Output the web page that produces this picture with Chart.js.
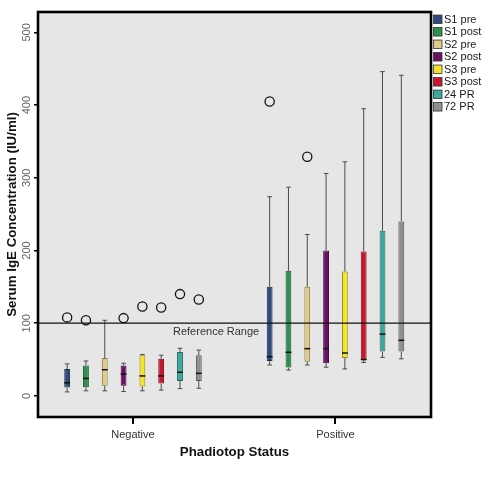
<!DOCTYPE html>
<html>
<head>
<meta charset="utf-8">
<script src="https://cdn.jsdelivr.net/npm/chart.js@4.4.1/dist/chart.umd.min.js"></script>
<style>
  html, body { margin: 0; padding: 0; background: #fff; }
  #wrap { width: 492px; height: 480px; position: relative; }
</style>
</head>
<body>
<div id="wrap"><canvas id="igeChart"></canvas></div>
<script>
// groups on the x axis (placed at x = 1, 2)
const groups = ['Negative', 'Positive'];
const groupPos = [1, 2];

// one box series per sampling point
const seriesNames = ['S1 pre', 'S1 post', 'S2 pre', 'S2 post', 'S3 pre', 'S3 post', '24 PR', '72 PR'];
const seriesColors = ['#2d4b7c', '#2f8d50', '#dfca8b', '#6b1063', '#f6e32c', '#c9152f', '#3ba89d', '#8f8f8f'];
const seriesBorders = ['#1c2f4e', '#1d5a33', '#8c7c4a', '#420a3d', '#9c8f12', '#7e0d1d', '#236860', '#555555'];

// box stats, each row = [Negative, Positive]
const whiskerLow  = [[5.5, 42.5], [7, 35.5], [7, 42.5], [6, 39.5], [7, 37], [8, 46], [10, 53], [10.5, 51]];
const q1          = [[11.5, 48], [12, 39], [14, 47], [14, 45], [13, 52], [17, 49.5], [20.5, 61], [20.5, 61]];
const median      = [[18, 54], [24, 60], [36, 65], [30, 65], [27.5, 59], [27.5, 50], [32.5, 85], [31, 76.5]];
const q3          = [[37, 150], [42, 172], [52, 150], [42, 200], [56, 171], [51, 198.5], [60.5, 227], [56, 240]];
const whiskerHigh = [[44, 274], [48, 287], [104, 222], [45, 306], [57, 322], [56, 395], [65.5, 446], [63, 441]];
const outliers    = [[[108], [405]], [[104], []], [[], [329]], [[107], []], [[123], []], [[121.5], []], [[140], []], [[132.5], []]];

const yTicks = [0, 100, 200, 300, 400, 500];
const referenceValue = 100;
const referenceText = 'Reference Range';

Chart.defaults.font.family = '"Liberation Sans", Arial, sans-serif';

const boxPlugin = {
    id: 'boxExtras',
    beforeDraw(chart) {
        const {ctx, chartArea: a} = chart;
        ctx.save();
        ctx.fillStyle = '#e6e6e6';
        ctx.fillRect(a.left, a.top, a.right - a.left, a.bottom - a.top);
        ctx.restore();
    },
    afterDatasetsDraw(chart) {
        const {ctx, chartArea: a} = chart;
        const y = chart.scales.y;
        ctx.save();
        chart.data.datasets.forEach((ds, i) => {
            const meta = chart.getDatasetMeta(i);
            meta.data.forEach((bar, j) => {
                const x = bar.x;
                const half = bar.width / 2;
                const cap = bar.width * 0.4;
                // whiskers
                ctx.strokeStyle = '#4a4a4a';
                ctx.lineWidth = 1;
                ctx.beginPath();
                ctx.moveTo(x, y.getPixelForValue(q3[i][j]));
                ctx.lineTo(x, y.getPixelForValue(whiskerHigh[i][j]));
                ctx.moveTo(x - cap, y.getPixelForValue(whiskerHigh[i][j]));
                ctx.lineTo(x + cap, y.getPixelForValue(whiskerHigh[i][j]));
                ctx.moveTo(x, y.getPixelForValue(q1[i][j]));
                ctx.lineTo(x, y.getPixelForValue(whiskerLow[i][j]));
                ctx.moveTo(x - cap, y.getPixelForValue(whiskerLow[i][j]));
                ctx.lineTo(x + cap, y.getPixelForValue(whiskerLow[i][j]));
                ctx.stroke();
                // median
                ctx.strokeStyle = '#111';
                ctx.lineWidth = 1.5;
                ctx.beginPath();
                ctx.moveTo(x - half, y.getPixelForValue(median[i][j]));
                ctx.lineTo(x + half, y.getPixelForValue(median[i][j]));
                ctx.stroke();
                // outliers
                ctx.lineWidth = 1.3;
                outliers[i][j].forEach(v => {
                    ctx.beginPath();
                    ctx.arc(x, y.getPixelForValue(v), 4.6, 0, Math.PI * 2);
                    ctx.stroke();
                });
            });
        });

        // reference line + label
        const ry = y.getPixelForValue(referenceValue);
        ctx.strokeStyle = '#111';
        ctx.lineWidth = 1.3;
        ctx.beginPath();
        ctx.moveTo(a.left, ry);
        ctx.lineTo(a.right, ry);
        ctx.stroke();
        ctx.fillStyle = '#333';
        ctx.font = '11px "Liberation Sans", Arial, sans-serif';
        ctx.textAlign = 'left';
        ctx.textBaseline = 'middle';
        ctx.fillText(referenceText, a.left + 135, ry + 8.5);

        // frame
        ctx.strokeStyle = '#000';
        ctx.lineWidth = 2.6;
        ctx.strokeRect(a.left, a.top, a.right - a.left, a.bottom - a.top);
        ctx.restore();
    },
    afterDraw(chart) {
        // legend at the right of the frame
        const {ctx, chartArea: a} = chart;
        const size = 8.5;
        const rowH = 12.5;
        ctx.save();
        ctx.font = '11px "Liberation Sans", Arial, sans-serif';
        ctx.textBaseline = 'middle';
        ctx.textAlign = 'left';
        chart.data.datasets.forEach((ds, i) => {
            const cy = a.top + 7.3 + i * rowH;
            ctx.fillStyle = ds.backgroundColor;
            ctx.fillRect(a.right + 2.5, cy - size / 2, size, size);
            ctx.strokeStyle = '#333';
            ctx.lineWidth = 0.8;
            ctx.strokeRect(a.right + 2.5, cy - size / 2, size, size);
            ctx.fillStyle = '#1a1a1a';
            ctx.fillText(ds.label, a.right + 13, cy + 0.5);
        });
        ctx.restore();
    }
};

const datasets = seriesNames.map((name, i) => ({
    label: name,
    data: groupPos.map((p, j) => ({ x: p, y: [q1[i][j], q3[i][j]] })),
    backgroundColor: seriesColors[i],
    borderColor: seriesBorders[i],
    borderWidth: 1,
    borderSkipped: false,
    categoryPercentage: 0.743,
    barPercentage: 0.31
}));

new Chart(document.getElementById('igeChart'), {
    type: 'bar',
    data: { datasets: datasets },
    options: {
        responsive: true,
        maintainAspectRatio: false,
        animation: false,
        layout: { padding: { top: 12, right: 61, left: 0, bottom: 0 } },
        plugins: {
            legend: { display: false },
            tooltip: { enabled: false }
        },
        scales: {
            x: {
                type: 'linear',
                min: 0.531,
                max: 2.4717,
                offset: false,
                afterBuildTicks: s => { s.ticks = groupPos.map(v => ({ value: v })); },
                afterFit: s => { s.height = 63; },
                border: { display: false },
                grid: { offset: false, drawOnChartArea: false, tickLength: 7, color: '#000', lineWidth: 2 },
                ticks: {
                    color: '#333',
                    font: { size: 11 },
                    padding: 4,
                    callback: v => groups[groupPos.indexOf(v)]
                },
                title: {
                    display: true,
                    text: 'Phadiotop Status',
                    color: '#111',
                    font: { size: 13.3, weight: 'bold' },
                    padding: { top: 0, bottom: 19.5 }
                }
            },
            y: {
                min: -29,
                max: 528,
                afterBuildTicks: s => { s.ticks = yTicks.map(v => ({ value: v })); },
                afterFit: s => { s.width = 38; },
                border: { display: false },
                grid: { drawOnChartArea: false, tickLength: 4, color: '#000', lineWidth: 1.5 },
                ticks: { minRotation: 90, maxRotation: 90, crossAlign: 'center', padding: -2.5, color: '#666', font: { size: 11 } },
                title: {
                    display: true,
                    text: 'Serum IgE Concentration (IU/ml)',
                    color: '#111',
                    font: { size: 13.3, weight: 'bold' },
                    padding: { top: 4, bottom: 0 }
                }
            }
        }
    },
    plugins: [boxPlugin]
});
</script>
</body>
</html>
